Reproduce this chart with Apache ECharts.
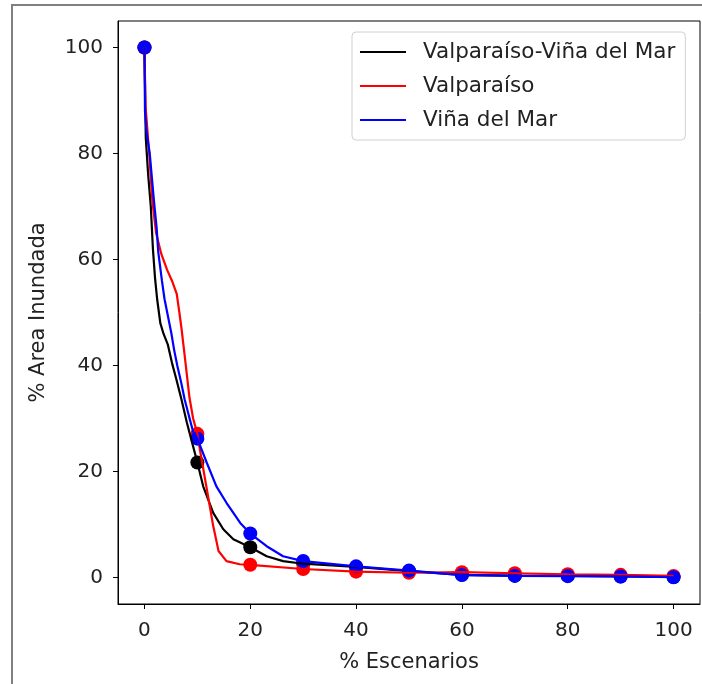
<!doctype html>
<html><head><meta charset="utf-8" />
<style>
  html,body{margin:0;padding:0;width:702px;height:684px;background:#ffffff;overflow:hidden}
  #frame{position:absolute;left:11px;top:4px;width:700px;height:700px;border-left:2px solid #808080;border-top:2px solid #808080;box-sizing:border-box}
  #app{position:absolute;left:0;top:0;width:702px;height:684px}
</style>
<script src="https://cdn.jsdelivr.net/npm/echarts@6.0.0/dist/echarts.min.js"></script>
</head><body><div id="frame"></div><div id="app"></div>
<script>
// values
const seriesNames = ['Valparaíso-Viña del Mar', 'Valparaíso', 'Viña del Mar'];
const seriesColors = ['#000000', '#ff0000', '#0000ff'];

const blackX = [0,0.25,0.7,1.2,1.6,2,2.4,3,3.6,4.4,5.2,6,7,8,9,10,11.1,13,14.9,16.8,20,23.1,26.2,30,40,50,60,70,80,90,100];
const blackY = [100,83,76,70,62,56.5,52.5,48,46,44,40.5,37.5,33.6,29.3,25.5,21.7,17.2,12.2,9.1,7.2,5.7,4.0,3.1,2.6,2.0,1.2,0.5,0.35,0.3,0.2,0.1];

const redX = [0,0.2,0.9,1.5,2.2,3.2,4.3,5.2,6.1,6.6,7,7.7,8.5,9.2,10,10.5,11.8,13,14,15.5,18,20,30,40,50,60,70,80,90,100];
const redY = [100,89,80,71,65,61,58,56,53.5,50,47,41,34,30,27.1,24,16.6,9.7,5,3.1,2.5,2.4,1.6,1.1,0.9,1.0,0.8,0.6,0.5,0.3];

const blueX = [0,0.1,0.4,1,1.8,2.3,2.6,3.3,3.8,4.5,5.1,5.6,6.2,7,7.6,8.4,9.2,10,11.8,13.6,15.5,18.1,20,23.1,26.2,30,40,50,60,70,80,90,100];
const blueY = [100,88,84,80,71,66,61.5,56,52.5,49,46,43,40,36.5,33.6,30.5,27.5,26.2,21.6,17.2,14.1,10.3,8.3,5.9,4.0,3.1,2.1,1.3,0.45,0.3,0.25,0.2,0.05];

const tickValues = [0, 20, 40, 60, 80, 100];

(function(){
  const font = "'DejaVu Sans', sans-serif";
  const xs = [blackX, redX, blueX], ys = [blackY, redY, blueY];
  const series = [];
  xs.forEach(function(xArr, i){
    const pts = xArr.map(function(x, k){ return [x, ys[i][k]]; });
    series.push({ name: seriesNames[i], type:'line', data: pts, showSymbol:false, symbol:'none',
      lineStyle:{ color: seriesColors[i], width: 2.2 }, itemStyle:{ color: seriesColors[i] }, animation:false });
    // markers every 10 %
    series.push({ name: seriesNames[i] + ' pts', type:'scatter', data: pts.filter(function(p){ return p[0] % 10 === 0; }),
      symbolSize: 14, itemStyle:{ color: seriesColors[i], opacity: 1 }, animation:false });
  });

  const axisCommon = {
    type:'value', min:-5, max:105,
    axisLine:{ show:true, onZero:false, lineStyle:{ color:'#000', width:1 } },
    axisTick:{ show:true, inside:false, length:5, lineStyle:{ color:'#000' }, customValues: tickValues },
    splitLine:{ show:false }
  };

  const chart = echarts.init(document.getElementById('app'));
  chart.setOption({
    backgroundColor:'transparent',
    animation:false,
    grid:{ left:118, top:21, right:2, bottom:80, show:true, borderColor:'#000', borderWidth:1, backgroundColor:'transparent' },
    legend:{
      data: seriesNames.map(function(n){ return { name:n, icon:'rect' }; }),
      orient:'vertical', left:352, top:32, itemWidth:46, itemHeight:2, itemGap:10,
      padding:[8,10,8,8], borderColor:'#d0d0d0', borderWidth:1, borderRadius:4, backgroundColor:'#fff',
      textStyle:{ fontFamily: font, fontSize:21.5, color:'#222', lineHeight:24, padding:[0,0,0,12] }
    },
    xAxis: Object.assign({}, axisCommon, {
      name:'% Escenarios', nameLocation:'middle', nameGap:48,
      nameTextStyle:{ fontFamily: font, fontSize:21, color:'#222' },
      axisLabel:{ customValues: tickValues, margin:17, fontFamily: font, fontSize:20, color:'#222' }
    }),
    yAxis: Object.assign({}, axisCommon, {
      name:'% Area Inundada', nameLocation:'middle', nameGap:69, nameRotate:90,
      nameTextStyle:{ fontFamily: font, fontSize:21, color:'#222' },
      axisLabel:{ customValues: tickValues, margin:15, fontFamily: font, fontSize:20, color:'#222' }
    }),
    series: series
  });
})();
</script></body></html>
